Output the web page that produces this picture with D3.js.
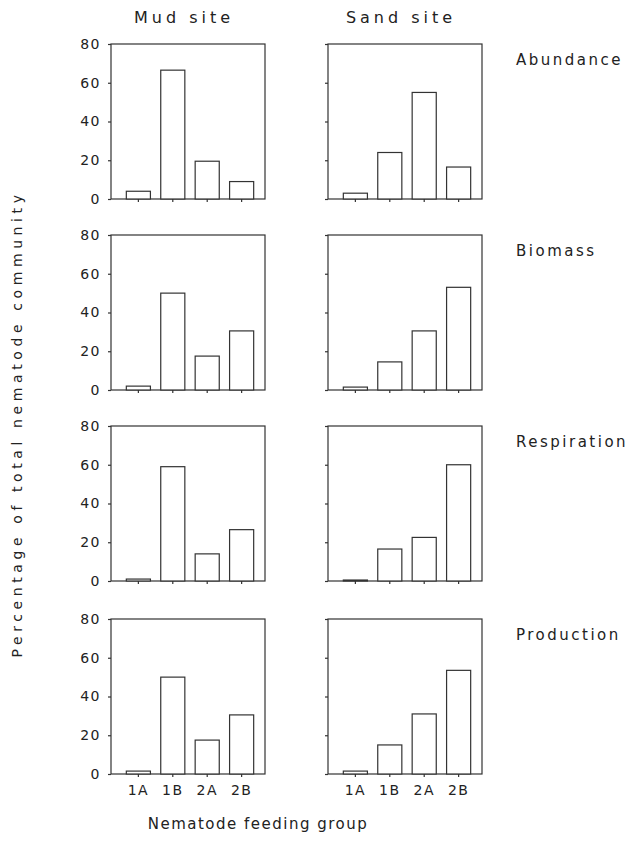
<!DOCTYPE html>
<html>
<head>
<meta charset="utf-8">
<script src="https://cdn.jsdelivr.net/npm/d3@7"></script>
<style>
  body { margin: 0; background: #fff; }
  text { font-family: "DejaVu Sans", sans-serif; fill: #222; }
</style>
</head>
<body>
<div id="chart"></div>
<script>
// feeding groups, sites and measures
const groups = ["1A", "1B", "2A", "2B"];
const sites = ["Mud site", "Sand site"];
const measures = ["Abundance", "Biomass", "Respiration", "Production"];
const yTicks = [0, 20, 40, 60, 80];

// percentage of total nematode community, one row per measure
const mudValues = [
    [4, 66.5, 19.5, 9],
    [2, 50, 17.5, 30.5],
    [1, 59, 14, 26.5],
    [1.5, 50, 17.5, 30.5]
];
const sandValues = [
    [3, 24, 55, 16.5],
    [1.5, 14.5, 30.5, 53],
    [0.5, 16.5, 22.5, 60],
    [1.5, 15, 31, 53.5]
];

const width = 642, height = 844;
const colLeft = [111, 328];
const rowTop = [44, 235, 426, 619];
const pw = 154, ph = 155;

const svg = d3.select("#chart").append("svg")
    .attr("width", width)
    .attr("height", height);

const x = d3.scaleBand()
    .domain(groups)
    .range([5, 153])
    .padding(0.3);

const y = d3.scaleLinear()
    .domain([0, 80])
    .range([ph, 0]);

const siteValues = [mudValues, sandValues];

siteValues.forEach((values, c) => {
    values.forEach((row, r) => {
        const g = svg.append("g")
            .attr("transform", `translate(${colLeft[c]},${rowTop[r]})`);

        g.append("rect")
            .attr("width", pw)
            .attr("height", ph)
            .attr("fill", "none")
            .attr("stroke", "#333")
            .attr("stroke-width", 1.2);

        g.selectAll(".bar")
            .data(groups.map((k, i) => ({ k, v: row[i] })))
            .join("rect")
            .attr("class", "bar")
            .attr("x", d => x(d.k))
            .attr("width", x.bandwidth())
            .attr("y", d => y(d.v))
            .attr("height", d => y(0) - y(d.v))
            .attr("fill", "#fff")
            .attr("stroke", "#333")
            .attr("stroke-width", 1.2);

        const ya = g.append("g")
            .call(d3.axisLeft(y)
                .tickValues(yTicks)
                .tickSize(3)
                .tickPadding(7)
                .tickFormat(c === 0 ? d3.format("d") : ""));

        const xa = g.append("g")
            .attr("transform", `translate(0,${ph})`)
            .call(d3.axisBottom(x)
                .tickSize(3)
                .tickPadding(8)
                .tickFormat(r === 3 ? (d => d) : ""));

        [ya, xa].forEach(a => {
            a.select(".domain").remove();
            a.selectAll("line").attr("stroke", "#333").attr("stroke-width", 1.2);
            a.selectAll("text")
                .attr("fill", "#222")
                .style("font-family", "'DejaVu Sans', sans-serif")
                .style("font-size", "14px")
                .style("letter-spacing", "1.5px");
        });
    });
});

// column titles
svg.selectAll(".site")
    .data(sites)
    .join("text")
    .attr("class", "site")
    .attr("x", (d, i) => colLeft[i] + pw / 2 - 4)
    .attr("y", 18)
    .attr("text-anchor", "middle")
    .attr("dominant-baseline", "middle")
    .style("font-size", "16px")
    .style("letter-spacing", "4px")
    .text(d => d);

// row labels
svg.selectAll(".measure")
    .data(measures)
    .join("text")
    .attr("class", "measure")
    .attr("x", 516)
    .attr("y", (d, i) => rowTop[i] + 16)
    .attr("dominant-baseline", "middle")
    .style("font-size", "15px")
    .style("letter-spacing", "2.5px")
    .text(d => d);

svg.append("text")
    .attr("transform", "translate(18,424) rotate(-90)")
    .attr("text-anchor", "middle")
    .attr("dominant-baseline", "middle")
    .style("font-size", "14px")
    .style("letter-spacing", "4.6px")
    .text("Percentage of total nematode community");

svg.append("text")
    .attr("x", 258)
    .attr("y", 824)
    .attr("text-anchor", "middle")
    .attr("dominant-baseline", "middle")
    .style("font-size", "15px")
    .style("letter-spacing", "1.5px")
    .text("Nematode feeding group");
</script>
</body>
</html>
